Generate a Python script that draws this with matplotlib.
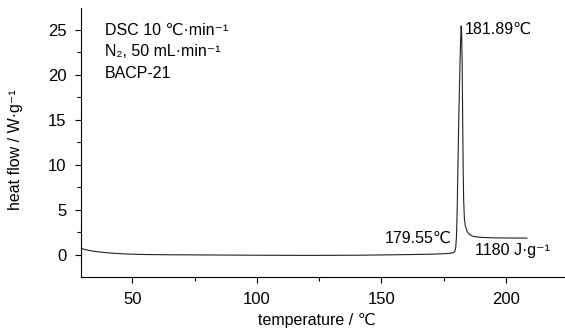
import matplotlib
matplotlib.use('Agg')
import matplotlib.pyplot as plt
import matplotlib.ticker as ticker

# DSC trace
temperature = [29.5, 31, 33, 36, 40, 44, 48, 55, 65, 80, 100, 120, 140, 155, 165, 172, 176,
               178, 179.0, 179.55, 179.9, 180.2, 180.5, 180.8, 181.2, 181.6, 181.9, 182.1,
               182.3, 182.5, 182.7, 182.9, 183.1, 183.4, 183.8, 184.5, 185.5, 187, 190,
               195, 200, 208.5]
heat_flow = [0.72, 0.6, 0.48, 0.36, 0.24, 0.16, 0.1, 0.05, 0.02, 0.0, -0.03, -0.05, -0.03, 0.02, 0.06, 0.1, 0.15,
             0.2, 0.26, 0.4, 0.8, 2.0, 5.0, 10.0, 16.0, 21.0, 24.0, 25.4,
             24.5, 21.0, 15.0, 9.5, 6.0, 4.0, 3.2, 2.6, 2.25, 2.05, 1.95,
             1.9, 1.88, 1.87]

x_ticks = [50, 100, 150, 200]
y_ticks = [0, 5, 10, 15, 20, 25]

info = ['DSC 10 \u2103\u00b7min\u207b\u00b9', 'N\u2082, 50 mL\u00b7min\u207b\u00b9', 'BACP-21']

plt.rcParams['font.family'] = ['Liberation Sans', 'DejaVu Sans']

fig = plt.figure(figsize=(5.65, 3.31), dpi=100)
ax = fig.add_axes([0.1434, 0.163, 0.8566, 0.813])

ax.plot(temperature, heat_flow, color='#222222', lw=0.8)

ax.set_xlim(29.4, 223.8)
ax.set_ylim(-2.45, 27.4)
ax.set_xticks(x_ticks)
ax.set_yticks(y_ticks)
ax.xaxis.set_minor_locator(ticker.MultipleLocator(25))
ax.yaxis.set_minor_locator(ticker.MultipleLocator(2.5))
ax.tick_params(which='major', direction='out', length=4, width=0.8, pad=6.5, labelsize=12)
ax.tick_params(which='minor', direction='out', length=3, width=0.8)

for side in ('top', 'right'):
    ax.spines[side].set_visible(False)
for side in ('left', 'bottom'):
    ax.spines[side].set_linewidth(0.8)

fig.text(317 / 565, 1 - 320 / 331, 'temperature / \u2103', ha='center', va='center', fontsize=11.5)
fig.text(16 / 565, 1 - 150 / 331, 'heat flow / W\u00b7g\u207b\u00b9', ha='center', va='center',
         rotation=90, fontsize=11.5)

for i, s in enumerate(info):
    fig.text(105 / 565, 1 - (30 + 22 * i) / 331, s, ha='left', va='center', fontsize=11.5)

fig.text(465 / 565, 1 - 29 / 331, '181.89\u2103', ha='left', va='center', fontsize=11.5)
fig.text(452 / 565, 1 - 238 / 331, '179.55\u2103', ha='right', va='center', fontsize=11.5)
fig.text(475 / 565, 1 - 250 / 331, '1180 J\u00b7g\u207b\u00b9', ha='left', va='center', fontsize=11.5)

fig.savefig('out.png', dpi=100)
